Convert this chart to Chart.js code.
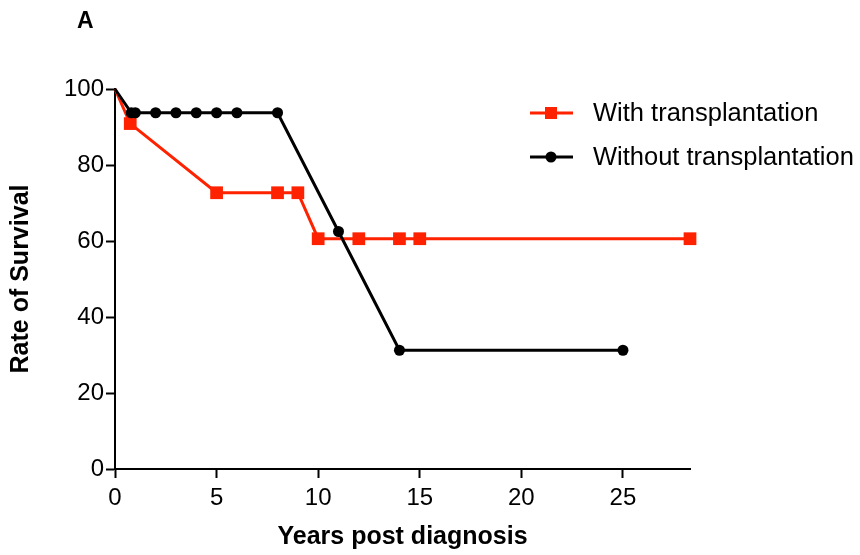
<!DOCTYPE html>
<html>
<head>
<meta charset="utf-8">
<script src="https://cdn.jsdelivr.net/npm/chart.js@4"></script>
<style>
  html, body { margin: 0; padding: 0; background: #fff; }
  #wrap { width: 860px; height: 555px; }
</style>
</head>
<body>
<div id="wrap"><canvas id="survChart" width="860" height="555"></canvas></div>
<script>
// values
const withX = [0, 0.75, 5, 8, 9, 10, 12, 14, 15, 28.3];
const withY = [100, 90.9, 72.7, 72.7, 72.7, 60.6, 60.6, 60.6, 60.6, 60.6];
const withoutX = [0, 0.8, 1, 2, 3, 4, 5, 6, 8, 11, 14, 25];
const withoutY = [100, 93.75, 93.75, 93.75, 93.75, 93.75, 93.75, 93.75, 93.75, 62.5, 31.25, 31.25];
const seriesLabels = ['With transplantation', 'Without transplantation'];
const yTicks = [0, 20, 40, 60, 80, 100];
const xTicks = [0, 5, 10, 15, 20, 25];

const RED = 'rgb(255, 34, 0)';
const BLACK = '#000000';
const FONT = '"Liberation Sans", Arial, sans-serif';

const toPoints = (xs, ys) => xs.map((x, i) => ({ x: x, y: ys[i] }));
// no marker on the starting point (0, 100)
const radii = (xs, r) => xs.map((x, i) => (i === 0 ? 0 : r));

const panelLegend = {
    id: 'panelLegend',
    afterDraw(chart) {
        const ctx = chart.ctx;
        ctx.save();
        ctx.fillStyle = '#000';
        ctx.font = 'bold 23px ' + FONT;
        ctx.textBaseline = 'middle';
        ctx.textAlign = 'left';
        ctx.fillText('A', 77, 22);

        const rows = [
            { ds: chart.data.datasets[0], y: 113 },
            { ds: chart.data.datasets[1], y: 157 }
        ];
        rows.forEach(row => {
            const ds = row.ds;
            ctx.strokeStyle = ds.borderColor;
            ctx.fillStyle = ds.borderColor;
            ctx.lineWidth = 3;
            ctx.beginPath();
            ctx.moveTo(530, row.y);
            ctx.lineTo(573, row.y);
            ctx.stroke();
            if (ds.pointStyle === 'rect') {
                ctx.fillRect(551 - 6, row.y - 6, 12, 12);
            } else {
                ctx.beginPath();
                ctx.arc(551, row.y, 5.5, 0, Math.PI * 2);
                ctx.fill();
            }
            ctx.fillStyle = '#000';
            ctx.font = '25.5px ' + FONT;
            ctx.fillText(ds.label, 593, row.y + 1);
        });
        ctx.restore();
    }
};

let ctxSurv = document.getElementById('survChart');

let survChart = new Chart(ctxSurv, {
    type: 'line',
    data: {
        datasets: [{
            label: seriesLabels[0],
            data: toPoints(withX, withY),
            borderColor: RED,
            backgroundColor: RED,
            borderWidth: 3,
            pointStyle: 'rect',
            pointRadius: radii(withX, 9),
            pointHoverRadius: radii(withX, 9),
            pointBorderWidth: 0,
            tension: 0,
            clip: false,
            order: 1
        }, {
            label: seriesLabels[1],
            data: toPoints(withoutX, withoutY),
            borderColor: BLACK,
            backgroundColor: BLACK,
            borderWidth: 3,
            pointStyle: 'circle',
            pointRadius: radii(withoutX, 5.5),
            pointHoverRadius: radii(withoutX, 5.5),
            pointBorderWidth: 0,
            tension: 0,
            clip: false,
            order: 0
        }]
    },
    options: {
        responsive: false,
        animation: false,
        events: [],
        layout: {
            padding: { left: 0, top: 89, right: 170, bottom: 0 }
        },
        plugins: {
            legend: { display: false },
            tooltip: { enabled: false }
        },
        scales: {
            x: {
                type: 'linear',
                min: 0,
                max: 28.3,
                afterFit: scale => { scale.height = 86; },
                afterBuildTicks: scale => { scale.ticks = xTicks.map(v => ({ value: v })); },
                border: { color: '#000', width: 2 },
                grid: { drawOnChartArea: false, tickLength: 9, tickWidth: 2, tickColor: '#000' },
                ticks: { color: '#000', padding: 6, font: { family: FONT, size: 24 } },
                title: {
                    display: true,
                    text: 'Years post diagnosis',
                    color: '#000',
                    padding: { top: 0, bottom: 3 },
                    font: { family: FONT, size: 25, weight: 'bold' }
                }
            },
            y: {
                min: 0,
                max: 100,
                afterFit: scale => { scale.width = 115; },
                afterBuildTicks: scale => { scale.ticks = yTicks.map(v => ({ value: v })); },
                border: { color: '#000', width: 2 },
                grid: { drawOnChartArea: false, tickLength: 9, tickWidth: 2, tickColor: '#000' },
                ticks: { color: '#000', padding: 2, font: { family: FONT, size: 24 } },
                title: {
                    display: true,
                    text: 'Rate of Survival',
                    color: '#000',
                    padding: { top: 6, bottom: 0 },
                    font: { family: FONT, size: 25, weight: 'bold' }
                }
            }
        }
    },
    plugins: [panelLegend]
});
</script>
</body>
</html>
